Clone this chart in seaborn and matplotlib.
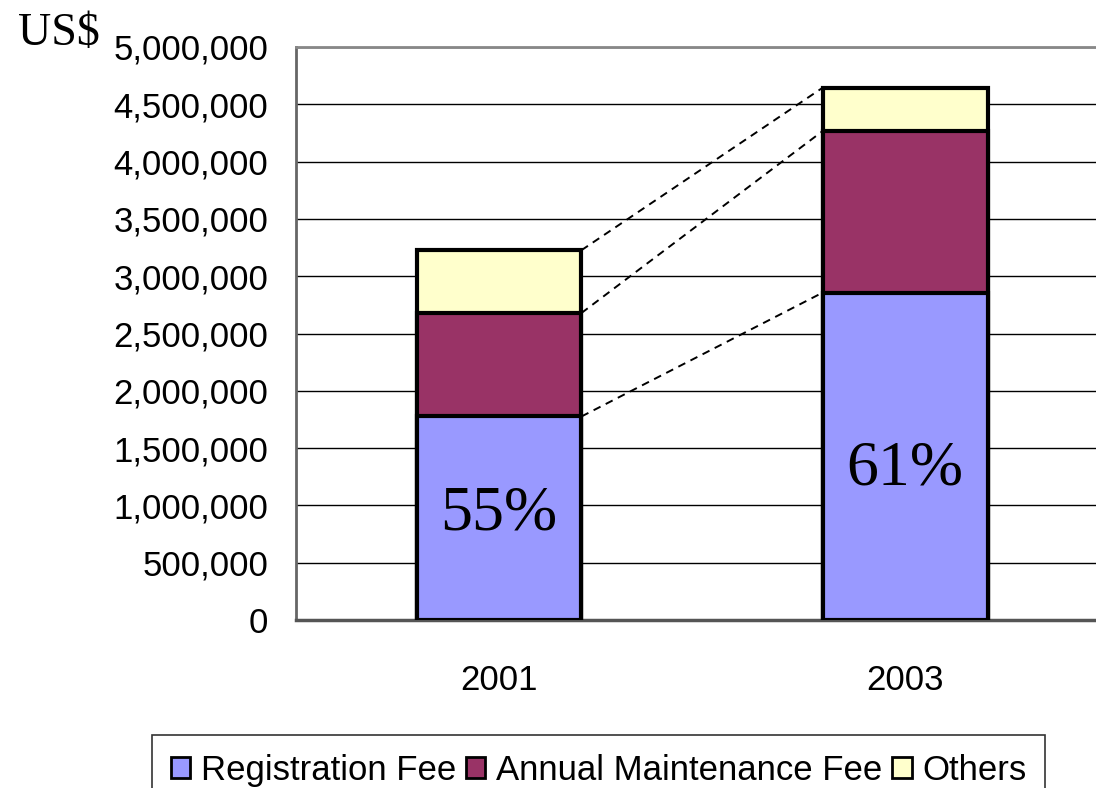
import matplotlib
matplotlib.use("Agg")
import matplotlib.pyplot as plt
import seaborn as sns
import pandas as pd
from matplotlib.patches import Patch
from matplotlib.ticker import FuncFormatter, FixedLocator

# data (US$)
years = ["2001", "2003"]
registration = [1776000, 2857000]
maintenance = [903000, 1410000]
others = [548000, 378000]
share_labels = ["55%", "61%"]
series_names = ["Registration Fee", "Annual Maintenance Fee", "Others"]
colors = ["#9999ff", "#993366", "#ffffcc"]

sns.set_style("white")
plt.rcParams['font.family'] = ['Liberation Sans', 'DejaVu Sans']
plt.rcParams['text.color'] = 'black'
plt.rcParams['xtick.color'] = 'black'
plt.rcParams['ytick.color'] = 'black'

df = pd.DataFrame({'year': years, 'reg': registration, 'maint': maintenance, 'oth': others})
df['lvl1'] = df['reg']
df['lvl2'] = df['reg'] + df['maint']
df['lvl3'] = df['lvl2'] + df['oth']

fig = plt.figure(figsize=(10.96, 7.88), dpi=100)
ax = fig.add_axes([296 / 1096, 168 / 788, 800 / 1096, 573 / 788])

bar_w = 0.406
# draw from the top level down so each segment overlays the one above
for col, c in zip(['lvl3', 'lvl2', 'lvl1'], colors[::-1]):
    sns.barplot(data=df, x='year', y=col, color=c, width=bar_w,
                edgecolor='black', linewidth=3, saturation=1, ax=ax, zorder=3)

# dashed connectors between segment tops
for col in ['lvl1', 'lvl2', 'lvl3']:
    ax.plot([0 + bar_w / 2, 1 - bar_w / 2], df[col].values,
            color='black', linestyle=(0, (4, 3)), linewidth=1.4, zorder=4)

for i, lab in enumerate(share_labels):
    ypos = [0.92e6, 1.31e6][i]
    ax.text(i, ypos, lab, ha='center', va='center', fontsize=46, color='black',
            family=['Liberation Serif', 'DejaVu Serif'], zorder=5)

ax.set_ylim(0, 5000000)
ax.set_xlim(-0.5, 1.47)
ax.yaxis.set_major_locator(FixedLocator(range(0, 5000001, 500000)))
ax.yaxis.set_major_formatter(FuncFormatter(lambda v, p: f"{int(v):,}"))
ax.yaxis.grid(True, color='black', linewidth=1, zorder=0)
ax.set_axisbelow(True)
ax.tick_params(axis='y', length=0, pad=20, labelsize=25, labelcolor='black')
ax.tick_params(axis='x', which='major', length=0, pad=32, labelsize=25, labelcolor='black')
ax.xaxis.set_minor_locator(FixedLocator([0.5]))
ax.tick_params(axis='x', which='minor', direction='in', length=7, color='#555555', width=1)
ax.set_xlabel('')
ax.set_ylabel('')

ax.spines['right'].set_visible(False)
ax.spines['top'].set_color('#888888')
ax.spines['top'].set_linewidth(2)
ax.spines['left'].set_color('#666666')
ax.spines['left'].set_linewidth(2)
ax.spines['bottom'].set_color('#555555')
ax.spines['bottom'].set_linewidth(2.5)

fig.text(18 / 1096, 1 - 45 / 788, "US$", fontsize=33, va='baseline', ha='left',
         color='black', family=['Liberation Serif', 'DejaVu Serif'])

handles = [Patch(facecolor=c, edgecolor='black', linewidth=2) for c in colors]
leg = fig.legend(handles, series_names, loc='upper left',
                 bbox_to_anchor=(152 / 1096, 1 - 735 / 788), ncol=3,
                 fontsize=25, frameon=True, fancybox=False, handlelength=0.55,
                 handleheight=0.55, handletextpad=0.3, columnspacing=0.3,
                 borderpad=0.55, borderaxespad=0)
leg.get_frame().set_edgecolor('black')
leg.get_frame().set_linewidth(1.2)

fig.savefig("out.png", dpi=100)
